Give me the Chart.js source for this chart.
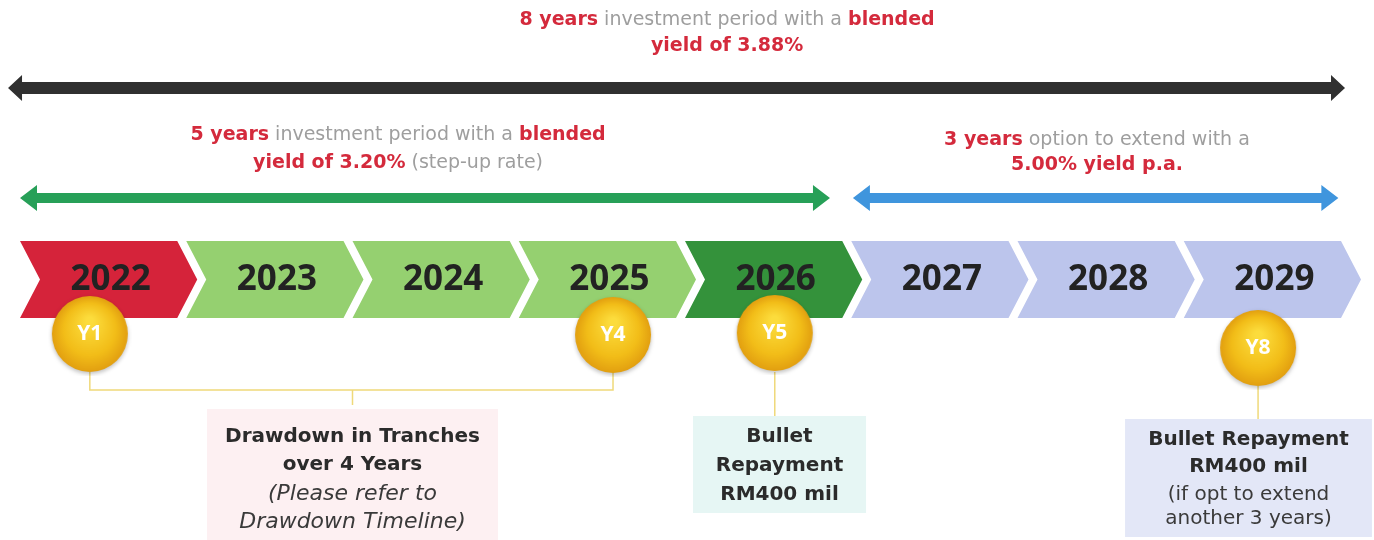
<!DOCTYPE html>
<html>
<head>
<meta charset="utf-8">
<script src="https://cdn.jsdelivr.net/npm/chart.js@4.4.0/dist/chart.umd.min.js"></script>
<style>
  body { margin: 0; background: #fff; }
  .wrap { width: 1374px; height: 540px; position: relative; }
</style>
</head>
<body>
<div class="wrap"><canvas id="timeline"></canvas></div>
<script>
// timeline years, one chevron each
const years = ['2022', '2023', '2024', '2025', '2026', '2027', '2028', '2029'];
const yearColors = ['#d5233a', '#95d070', '#95d070', '#95d070', '#34923b', '#bcc5ec', '#bcc5ec', '#bcc5ec'];

// milestone bubbles (x in years from start of 2022, y in page rows)
const milestoneLabels = ['Y1', 'Y4', 'Y5', 'Y8'];
const milestoneX = [0.42, 3.567, 4.54, 7.447];
const milestoneRow = [334, 335, 333, 348];

// period arrows (start / end in years)
const periodStart = [-0.072, 0, 5.01];
const periodEnd = [7.97, 4.872, 7.93];
const periodRow = [88, 198, 198];
const periodColors = ['#303030', '#27a058', '#3f95dd'];

// captions above arrows: each line is a list of [text, highlighted]
const periodCenter = [4.253, 2.274, 6.478];
const periodText = [
  [[['8 years', true], [' investment period with a ', false], ['blended', true]], [['yield of 3.88%', true]]],
  [[['5 years', true], [' investment period with a ', false], ['blended', true]], [['yield of 3.20%', true], [' (step-up rate)', false]]],
  [[['3 years', true], [' option to extend with a', false]], [['5.00% yield p.a.', true]]]
];
const periodTextRows = [[20, 46], [135, 163], [140, 165]];
const periodTextSize = [19, 19, 19];

// notes under the timeline
const noteStart = [1.125, 4.048, 6.647];
const noteEnd = [2.875, 5.089, 8.132];
const noteTop = [409, 416, 419];
const noteBottom = [540, 513, 537];
const noteColors = ['#fdf0f2', '#e6f6f4', '#e3e7f7'];
const noteLines = [
  ['Drawdown in Tranches', 'over 4 Years', '(Please refer to', 'Drawdown Timeline)'],
  ['Bullet', 'Repayment', 'RM400 mil'],
  ['Bullet Repayment', 'RM400 mil', '(if opt to extend', 'another 3 years)']
];
const noteStyles = [['b', 'b', 'i', 'i'], ['b', 'b', 'b'], ['b', 'b', 'r', 'r']];
const noteRows = [[437, 465, 494, 522], [437, 466, 495], [440, 467, 495, 519]];

const FONT = '"DejaVu Sans", sans-serif';
const YEAR_FONT = '"Open Sans", "DejaVu Sans", sans-serif';
const RED = '#d42a3c';
const GREY = '#9e9e9e';
const LINK = '#efd97a';

// bubble image used as the point style
function makeBubble(r) {
  const c = document.createElement('canvas');
  c.width = r * 2 + 8;
  c.height = r * 2 + 8;
  const g = c.getContext('2d');
  const cx = r + 4, cy = r + 4;
  g.shadowColor = 'rgba(0,0,0,0.25)';
  g.shadowBlur = 4;
  g.shadowOffsetY = 2;
  const grad = g.createRadialGradient(cx, cy - r * 0.35, r * 0.1, cx, cy, r);
  grad.addColorStop(0, '#fcdc3c');
  grad.addColorStop(0.65, '#f2bd18');
  grad.addColorStop(1, '#e29f10');
  g.fillStyle = grad;
  g.beginPath();
  g.arc(cx, cy, r, 0, Math.PI * 2);
  g.fill();
  return c;
}

function arrow(ctx, x0, x1, y, t, hh, hl, color) {
  ctx.fillStyle = color;
  ctx.beginPath();
  ctx.moveTo(x0, y);
  ctx.lineTo(x0 + hl, y - hh);
  ctx.lineTo(x0 + hl, y - t / 2);
  ctx.lineTo(x1 - hl, y - t / 2);
  ctx.lineTo(x1 - hl, y - hh);
  ctx.lineTo(x1, y);
  ctx.lineTo(x1 - hl, y + hh);
  ctx.lineTo(x1 - hl, y + t / 2);
  ctx.lineTo(x0 + hl, y + t / 2);
  ctx.lineTo(x0 + hl, y + hh);
  ctx.closePath();
  ctx.fill();
}

// draw a line of mixed red / grey runs centred on cx
function drawRuns(ctx, runs, cx, y, size) {
  const fontFor = (hi) => (hi ? 'bold ' : '') + size + 'px ' + FONT;
  let total = 0;
  runs.forEach(([txt, hi]) => { ctx.font = fontFor(hi); total += ctx.measureText(txt).width; });
  let x = cx - total / 2;
  ctx.textAlign = 'left';
  ctx.textBaseline = 'middle';
  runs.forEach(([txt, hi]) => {
    ctx.font = fontFor(hi);
    ctx.fillStyle = hi ? RED : GREY;
    ctx.fillText(txt, x, y);
    x += ctx.measureText(txt).width;
  });
}

const timelinePlugin = {
  id: 'timeline',
  beforeDatasetsDraw(chart) {
    const ctx = chart.ctx;
    const X = (v) => chart.scales.x.getPixelForValue(v);
    const Y = (v) => chart.scales.y.getPixelForValue(v);
    ctx.save();

    // captions + arrows
    periodText.forEach((lines, i) => {
      lines.forEach((runs, j) => drawRuns(ctx, runs, X(periodCenter[i]), Y(periodTextRows[i][j]), periodTextSize[i]));
    });
    periodStart.forEach((s, i) => {
      const t = i === 0 ? 12 : 10;
      arrow(ctx, X(s), X(periodEnd[i]), Y(periodRow[i]), t, 13, i === 0 ? 14 : 17, periodColors[i]);
    });

    // chevrons
    const top = Y(241), bot = Y(318), mid = (top + bot) / 2;
    const tip = 20, gap = 9;
    years.forEach((yr, i) => {
      const x0 = X(i), x1 = X(i + 1) - gap;
      ctx.fillStyle = yearColors[i];
      ctx.beginPath();
      ctx.moveTo(x0, top);
      ctx.lineTo(x1, top);
      ctx.lineTo(x1 + tip, mid);
      ctx.lineTo(x1, bot);
      ctx.lineTo(x0, bot);
      ctx.lineTo(x0 + tip, mid);
      ctx.closePath();
      ctx.fill();
      ctx.fillStyle = '#222';
      ctx.font = 'bold 35px ' + YEAR_FONT;
      ctx.textAlign = 'center';
      ctx.textBaseline = 'middle';
      ctx.fillText(yr, (x0 + x1 + tip) / 2 + 2, mid + 1);
    });

    // note boxes
    noteLines.forEach((lines, i) => {
      const x0 = X(noteStart[i]), x1 = X(noteEnd[i]);
      ctx.fillStyle = noteColors[i];
      ctx.fillRect(x0, Y(noteTop[i]), x1 - x0, Y(noteBottom[i]) - Y(noteTop[i]));
      lines.forEach((ln, j) => {
        const st = noteStyles[i][j];
        ctx.font = (st === 'b' ? 'bold 20px ' : st === 'i' ? 'oblique 22px ' : '20px ') + FONT;
        ctx.fillStyle = st === 'b' ? '#2b2b2b' : '#3a3a3a';
        ctx.textAlign = 'center';
        ctx.textBaseline = 'middle';
        ctx.fillText(ln, (x0 + x1) / 2, Y(noteRows[i][j]));
      });
    });

    // connector lines from bubbles to notes
    ctx.strokeStyle = LINK;
    ctx.lineWidth = 1.5;
    const xa = X(milestoneX[0]), xb = X(milestoneX[1]);
    const xm = X((noteStart[0] + noteEnd[0]) / 2);
    ctx.beginPath();
    ctx.moveTo(xa, Y(372)); ctx.lineTo(xa, Y(390)); ctx.lineTo(xb, Y(390)); ctx.lineTo(xb, Y(372));
    ctx.moveTo(xm, Y(390)); ctx.lineTo(xm, Y(405));
    ctx.moveTo(X(milestoneX[2]), Y(372)); ctx.lineTo(X(milestoneX[2]), Y(416));
    ctx.moveTo(X(milestoneX[3]), Y(386)); ctx.lineTo(X(milestoneX[3]), Y(419));
    ctx.stroke();
    ctx.restore();
  },
  afterDatasetsDraw(chart) {
    const ctx = chart.ctx;
    const meta = chart.getDatasetMeta(0);
    ctx.save();
    ctx.fillStyle = '#fff';
    ctx.font = 'bold 21px ' + YEAR_FONT;
    ctx.textAlign = 'center';
    ctx.textBaseline = 'middle';
    meta.data.forEach((pt, i) => ctx.fillText(milestoneLabels[i], pt.x, pt.y));
    ctx.restore();
  }
};

new Chart(document.getElementById('timeline'), {
  type: 'scatter',
  data: {
    datasets: [{
      data: milestoneX.map((x, i) => ({ x: x, y: milestoneRow[i] })),
      pointStyle: makeBubble(38),
      pointRadius: 38
    }]
  },
  options: {
    responsive: true,
    maintainAspectRatio: false,
    animation: false,
    events: [],
    layout: { autoPadding: false, padding: { left: 20, right: 24, top: 0, bottom: 0 } },
    plugins: { legend: { display: false }, tooltip: { enabled: false } },
    scales: {
      x: { type: 'linear', min: 0, max: 8, display: false },
      y: { type: 'linear', min: 0, max: 540, reverse: true, display: false }
    }
  },
  plugins: [timelinePlugin]
});
</script>
</body>
</html>
